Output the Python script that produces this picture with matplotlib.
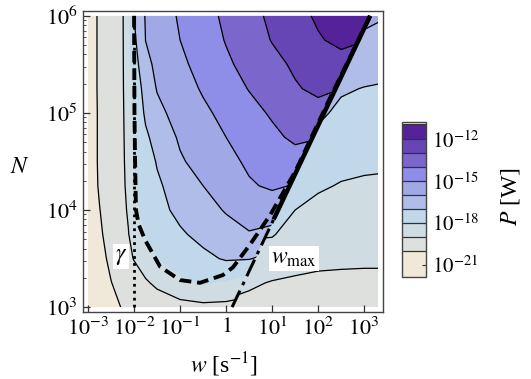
import numpy as np
import matplotlib
matplotlib.use('Agg')
import matplotlib.pyplot as plt
from matplotlib.patches import Polygon

plt.rcParams['font.family'] = ['Liberation Serif', 'DejaVu Serif']
plt.rcParams['mathtext.fontset'] = 'stix'

# --- data ---------------------------------------------------------------
# log10(P [W]) on a grid of log10(w) x log10(N), region left of w_max
left_logw = [-3.0, -2.75, -2.5, -2.25, -2.125, -2.0, -1.75, -1.5, -1.0, -0.5,
             0.0, 0.5, 1.0, 1.5, 2.0, 2.5, 3.0, 3.5]
grid_logN = [3.0, 3.25, 3.5, 3.75, 4.0, 4.25, 4.5, 4.75, 5.0, 5.25, 5.5, 5.75, 6.0]
left_logP = [
    [-20.65, -20.4, -20.15, -19.97, -19.9, -19.82, -19.68, -19.55, -19.37, -19.24, -19.26, -19.4, -19.6, -19.8, -20.0, -20.2, -20.4, -20.6],
    [-20.6, -20.3, -20.02, -19.72, -19.58, -19.42, -19.12, -18.81, -18.19, -17.93, -18.13, -18.45, -18.8, -19.1, -19.4, -19.7, -20.0, -20.3],
    [-20.55, -20.25, -19.83, -19.4, -19.18, -18.96, -18.47, -17.99, -17.61, -17.23, -16.9, -16.95, -17.3, -17.6, -17.9, -18.2, -18.5, -18.8],
    [-20.5, -20.12, -19.68, -19.25, -19.03, -18.67, -17.97, -17.69, -17.13, -16.72, -16.35, -16.07, -16.3, -16.7, -17.1, -17.5, -17.9, -18.3],
    [-20.45, -20.02, -19.59, -19.18, -18.92, -18.26, -17.69, -17.31, -16.75, -16.33, -15.93, -15.57, -15.5, -15.8, -16.2, -16.6, -17.0, -17.4],
    [-20.45, -19.92, -19.53, -19.14, -18.82, -18.16, -17.6, -17.15, -16.54, -16.0, -15.55, -15.09, -14.88, -15.05, -15.4, -15.8, -16.2, -16.6],
    [-20.45, -19.89, -19.49, -19.12, -18.75, -18.05, -17.47, -16.93, -16.11, -15.65, -15.24, -14.86, -14.52, -14.38, -14.6, -15.0, -15.4, -15.8],
    [-20.45, -19.89, -19.49, -19.11, -18.69, -18.0, -17.17, -16.64, -15.87, -15.43, -15.0, -14.6, -14.2, -13.83, -13.95, -14.3, -14.7, -15.1],
    [-20.45, -19.89, -19.49, -19.1, -18.62, -17.9, -16.83, -16.24, -15.64, -15.18, -14.74, -14.3, -13.89, -13.52, -13.35, -13.6, -14.0, -14.4],
    [-20.45, -19.87, -19.48, -19.08, -18.56, -17.77, -16.57, -15.95, -15.42, -14.9, -14.43, -13.96, -13.52, -13.09, -12.8, -13.0, -13.4, -13.8],
    [-20.45, -19.87, -19.48, -19.08, -18.46, -17.45, -16.26, -15.79, -15.2, -14.66, -14.15, -13.7, -13.26, -12.86, -12.5, -12.35, -12.8, -13.2],
    [-20.45, -19.87, -19.48, -19.08, -18.38, -17.2, -15.99, -15.66, -15.0, -14.47, -13.95, -13.45, -12.96, -12.52, -12.09, -11.78, -11.95, -12.4],
    [-20.45, -19.87, -19.48, -19.08, -18.25, -17.0, -15.93, -15.57, -14.88, -14.35, -13.82, -13.31, -12.81, -12.32, -11.86, -11.45, -11.3, -11.8],
]

# log10(P [W]) right of w_max
right_logw = [0.0, 0.5, 1.0, 1.5, 2.0, 2.5, 3.0, 3.5]
right_logP = [
    [-19.15, -19.25, -19.3, -19.35, -19.4, -19.4, -19.4, -19.4],
    [-18.7, -18.88, -19.05, -19.1, -19.15, -19.15, -19.15, -19.15],
    [-18.2, -18.4, -18.5, -18.76, -18.84, -18.88, -18.9, -18.9],
    [-17.7, -17.9, -17.93, -18.38, -18.53, -18.6, -18.64, -18.65],
    [-17.2, -17.4, -17.4, -18.0, -18.22, -18.33, -18.38, -18.39],
    [-16.7, -16.9, -16.9, -17.62, -17.9, -18.05, -18.11, -18.14],
    [-16.2, -16.4, -16.4, -17.25, -17.54, -17.77, -17.85, -17.88],
    [-15.7, -15.9, -15.9, -16.9, -17.19, -17.48, -17.58, -17.62],
    [-15.2, -15.4, -15.4, -16.5, -16.83, -17.19, -17.3, -17.36],
    [-14.7, -14.9, -14.9, -16.1, -16.5, -16.9, -17.03, -17.09],
    [-14.2, -14.4, -14.4, -15.7, -16.1, -16.6, -16.62, -16.75],
    [-13.7, -13.9, -13.9, -15.3, -15.8, -16.3, -16.19, -16.36],
    [-13.2, -13.4, -13.4, -14.9, -15.5, -16.0, -15.75, -15.97],
]

# extent of the computed region
w_range = [1e-3, 2e3]
N_range = [1e3, 1e6]

# w_max line (dash-dot) and the part where the contours pile up on it
wmax_w = [1.35, 1350]
wmax_N = [1e3, 1e6]
bundle_w = [10.8, 1350]
bundle_N = [8e3, 1e6]

# optimum curve (thick dashed)
opt_w = [0.010, 0.0102, 0.0105, 0.011, 0.0126, 0.0174, 0.037, 0.10, 0.27,
         0.85, 1.41, 3.3, 9.1, 32, 160, 1350]
opt_N = [1e6, 1e5, 3.3e4, 1e4, 7.1e3, 4.9e3, 2.6e3, 1.9e3, 1.78e3,
         2.14e3, 2.57e3, 4.4e3, 8.9e3, 2.5e4, 1.26e5, 1e6]

gamma = 0.01

# contour levels, log10(P)
levels = [-21.86, -20, -19, -18, -17, -16, -15, -14, -13, -12, -10.86, -10.75]
band_colors = ['#f0e8d8', '#dde0dc', '#cfdde3', '#c0d8ea', '#b0bde8', '#a0a8e6',
               '#8e8de8', '#7b66cc', '#6645b5', '#55229a', '#ffffff']
left_lines = [-20, -19, -17, -16, -15, -14, -13, -12]
right_lines = [-19, -18, -17, -16]
cbar_ticks = [-21, -18, -15, -12]

gamma_label_pos = (10**-2.28, 10**3.52)
wmax_label_pos = (10**1.48, 10**3.5)

# --- figure ----------------------------------------------------------------
fig = plt.figure(figsize=(5.31, 3.79), dpi=100)
ax = fig.add_axes([83/531, 1 - 312/379, 300/531, 301/379])
ax.set_xscale('log')
ax.set_yscale('log')
ax.set_xlim(10**-3.11, 10**3.41)
ax.set_ylim(10**2.95, 10**6.05)

# grids are given in decades: contour them in the log space of the axes
log_space = ax.transLimits + ax.transAxes
Xl, Yl = np.meshgrid(left_logw, grid_logN)
Xr, Yr = np.meshgrid(right_logw, grid_logN)
Zl = np.array(left_logP)
Zr = np.array(right_logP)

w_lo, w_hi = w_range
N_lo, N_hi = N_range
left_clip = Polygon([(w_lo, N_lo), (wmax_w[0]*1.03, N_lo), (wmax_w[1]*1.03, N_hi), (w_lo, N_hi)],
                    closed=True, transform=ax.transData)
right_clip = Polygon([(wmax_w[0], N_lo), (w_hi, N_lo), (w_hi, N_hi), (wmax_w[1], N_hi)],
                     closed=True, transform=ax.transData)

cf = ax.contourf(Xl, Yl, Zl, levels=levels, colors=band_colors, transform=log_space)
cf.set_clip_path(left_clip)
cs = ax.contour(Xl, Yl, Zl, levels=left_lines, colors='k', linewidths=0.9,
                linestyles='solid', transform=log_space)
cs.set_clip_path(left_clip)

cf2 = ax.contourf(Xr, Yr, Zr, levels=levels, colors=band_colors, transform=log_space)
cf2.set_clip_path(right_clip)
cs2 = ax.contour(Xr, Yr, Zr, levels=right_lines, colors='k', linewidths=0.9,
                 linestyles='solid', transform=log_space)
cs2.set_clip_path(right_clip)

ax.set_xlim(10**-3.11, 10**3.41)
ax.set_ylim(10**2.95, 10**6.05)

# overlays
ax.plot(bundle_w, bundle_N, color='k', lw=3.2, solid_capstyle='butt')
ax.plot([gamma, gamma], N_range, color='k', lw=2.0, linestyle=(0, (1.0, 1.5)))
ax.plot(wmax_w, wmax_N, color='k', lw=2.2, linestyle=(0, (6, 2, 1.2, 2)))
ax.plot(opt_w, opt_N, color='k', lw=2.8, linestyle=(0, (3.0, 1.5)))

ax.text(*gamma_label_pos, r'$\gamma$', fontsize=17, ha='center', va='center',
        bbox=dict(fc='white', ec='none', pad=1.5))
ax.text(*wmax_label_pos, r'$w_{\rm max}$', fontsize=17, ha='center', va='center',
        bbox=dict(fc='white', ec='none', pad=1.5))

# axes cosmetics
ax.set_xticks([1e-3, 1e-2, 1e-1, 1, 1e1, 1e2, 1e3])
ax.set_xticklabels([r'$10^{-3}$', r'$10^{-2}$', r'$10^{-1}$', r'$1$',
                    r'$10^{1}$', r'$10^{2}$', r'$10^{3}$'])
ax.set_yticks([1e3, 1e4, 1e5, 1e6])
ax.set_yticklabels([r'$10^{3}$', r'$10^{4}$', r'$10^{5}$', r'$10^{6}$'])
ax.tick_params(which='both', direction='in', top=False, right=False, color='#333')
ax.tick_params(which='major', length=5, width=0.9, labelsize=16, pad=4)
ax.tick_params(which='minor', length=2.5, width=0.6)
for sp in ax.spines.values():
    sp.set_linewidth(1.0)
    sp.set_color('#444')

ax.set_xlabel(r'$w$ [s$^{-1}$]', fontsize=17)
ax.xaxis.set_label_coords(0.47, -0.176)
ax.xaxis.label.set_va('center')
ax.set_ylabel(r'$N$', fontsize=17, rotation=0, ha='center', va='center')
ax.yaxis.set_label_coords(-0.21, 0.48)

# colorbar
cax = fig.add_axes([402/531, 1 - 277/379, 24/531, 155/379])
cbar = fig.colorbar(cf, cax=cax, spacing='proportional')
cbar.set_ticks(cbar_ticks)
cbar.set_ticklabels([r'$10^{%d}$' % t for t in cbar_ticks])
cax.tick_params(direction='in', length=3, width=0.8, labelsize=15, pad=4, color='#333')
for lv in levels[1:-1]:
    cax.axhline(lv, color='#333', lw=0.9)
cbar.outline.set_edgecolor('#444')
cbar.outline.set_linewidth(1.0)
cbar.set_label(r'$P$ [W]', fontsize=17, rotation=90, ha='center', va='center')
cax.yaxis.set_label_coords(4.5, 0.52)

fig.savefig('out.png', dpi=100)
